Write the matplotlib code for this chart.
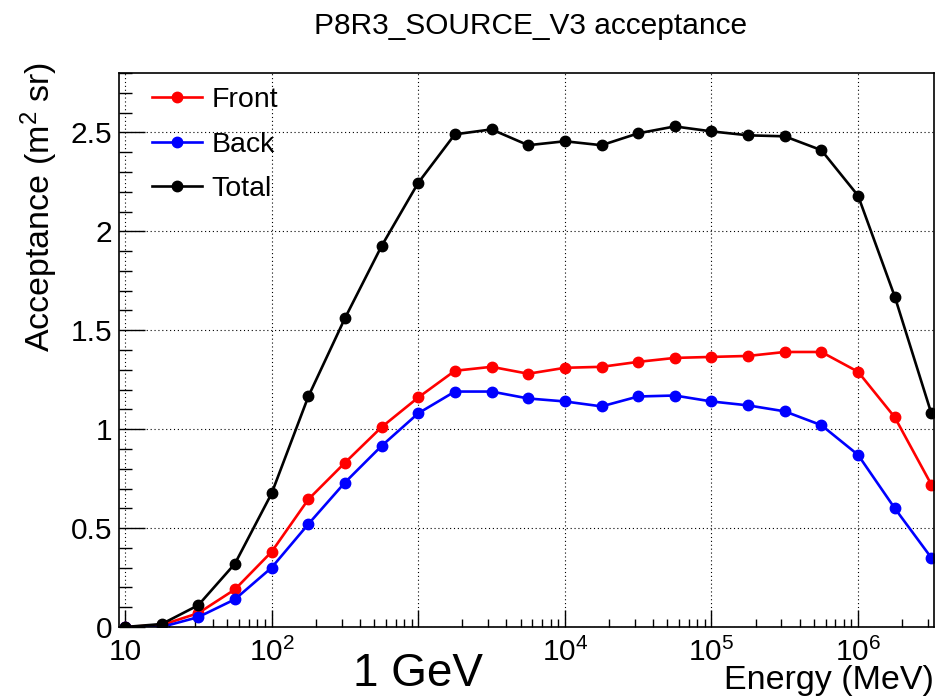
import numpy as np
import matplotlib
matplotlib.use('Agg')
import matplotlib.pyplot as plt
from matplotlib.ticker import FixedLocator, FixedFormatter, MultipleLocator, LogLocator, NullFormatter

plt.rcParams['font.family'] = ['Liberation Sans', 'DejaVu Sans']
plt.rcParams['mathtext.fontset'] = 'custom'
plt.rcParams['mathtext.rm'] = 'Liberation Sans'
plt.rcParams['mathtext.it'] = 'Liberation Sans'

# energies in MeV, quarter-decade steps from 10 MeV
energy = [10, 17.8, 31.6, 56.2, 100, 178, 316, 562, 1000, 1778, 3162, 5623,
          1e4, 1.78e4, 3.16e4, 5.62e4, 1e5, 1.78e5, 3.16e5, 5.62e5, 1e6, 1.78e6, 3.16e6]
front = [0.0, 0.01, 0.07, 0.19, 0.38, 0.645, 0.83, 1.01, 1.16, 1.295, 1.315, 1.28,
         1.31, 1.315, 1.34, 1.36, 1.365, 1.37, 1.39, 1.39, 1.29, 1.06, 0.72]
back = [0.0, 0.0, 0.05, 0.14, 0.30, 0.52, 0.73, 0.915, 1.08, 1.19, 1.19, 1.155,
        1.14, 1.115, 1.165, 1.17, 1.14, 1.12, 1.09, 1.02, 0.87, 0.60, 0.35]
total = [0.0, 0.015, 0.11, 0.32, 0.675, 1.165, 1.56, 1.925, 2.245, 2.49, 2.515, 2.435,
         2.455, 2.435, 2.495, 2.53, 2.505, 2.485, 2.48, 2.41, 2.18, 1.67, 1.08]

xticks = [10, 1e2, 1e3, 1e4, 1e5, 1e6]
xtick_labels = ['10', r'$10^{2}$', '', r'$10^{4}$', r'$10^{5}$', r'$10^{6}$']
yticks = [0, 0.5, 1, 1.5, 2, 2.5]
ytick_labels = ['0', '0.5', '1', '1.5', '2', '2.5']

fig = plt.figure(figsize=(9.37, 6.97), dpi=100)
ax = fig.add_axes([119 / 937, 70 / 697, 815 / 937, 554 / 697])

ax.plot(energy, front, '-o', color='red', lw=1.9, ms=7.5, label='Front')
ax.plot(energy, back, '-o', color='blue', lw=1.9, ms=7.5, label='Back')
ax.plot(energy, total, '-o', color='black', lw=1.9, ms=7.5, label='Total')

ax.set_xscale('log')
ax.set_xlim(10 ** 0.959, 10 ** 6.518)
ax.set_ylim(0, 2.8)

ax.xaxis.set_major_locator(FixedLocator(xticks))
ax.xaxis.set_major_formatter(FixedFormatter(xtick_labels))
ax.xaxis.set_minor_locator(LogLocator(base=10, subs=np.arange(2, 10)))
ax.xaxis.set_minor_formatter(NullFormatter())
ax.yaxis.set_major_locator(FixedLocator(yticks))
ax.yaxis.set_major_formatter(FixedFormatter(ytick_labels))
ax.yaxis.set_minor_locator(MultipleLocator(0.1))

ax.tick_params(axis='both', which='both', direction='in', top=False, right=False,
               labelsize=21.5, width=1)
ax.tick_params(axis='x', which='major', length=12, pad=8)
ax.tick_params(axis='x', which='minor', length=6)
ax.tick_params(axis='y', which='major', length=19, pad=5)
ax.tick_params(axis='y', which='minor', length=9)
for s in ax.spines.values():
    s.set_linewidth(1.2)

ax.grid(True, which='major', color='black', linestyle=(0, (1, 2.5)), linewidth=0.8)

ax.set_title('P8R3_SOURCE_V3 acceptance', fontsize=21.5, pad=28, x=0.505)
ax.set_ylabel(r'Acceptance (m$^{2}$ sr)', fontsize=24.5, loc='top')
ax.yaxis.set_label_coords(-0.072, 1.02)
ax.set_xlabel('Energy (MeV)', fontsize=24.5, loc='right')
ax.xaxis.label.set_va('baseline')
ax.xaxis.set_label_coords(1.0, -0.112)

ax.text(1000, -0.1065, '1 GeV', transform=ax.get_xaxis_transform(),
        ha='center', va='baseline', fontsize=33)

ax.legend(loc='upper left', frameon=False, fontsize=20.5, handlelength=1.76,
          handletextpad=0.35, labelspacing=0.66, borderaxespad=0.2,
          bbox_to_anchor=(0.019, 1.006))

fig.savefig('out.png', dpi=100)
